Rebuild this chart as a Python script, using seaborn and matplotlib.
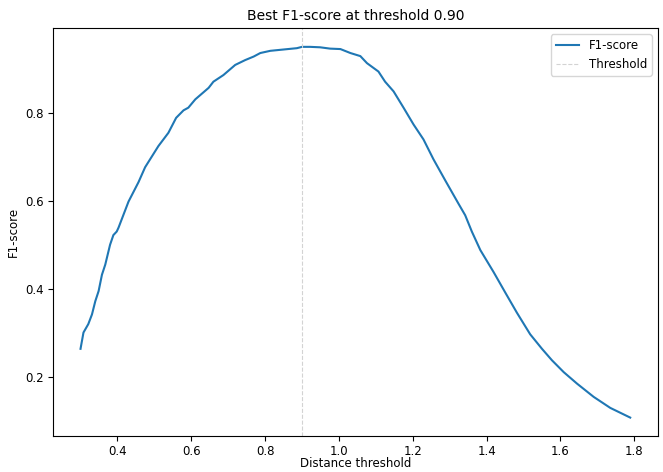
import numpy as np
import pandas as pd
import matplotlib
matplotlib.use("Agg")
import matplotlib.pyplot as plt
import seaborn as sns

# values
thresholds = [0.300, 0.308, 0.321, 0.331, 0.340, 0.349, 0.358, 0.367, 0.380, 0.389,
              0.398, 0.403, 0.430, 0.457, 0.475, 0.511, 0.538, 0.559, 0.579, 0.592,
              0.611, 0.647, 0.660, 0.687, 0.719, 0.746, 0.769, 0.787, 0.814, 0.850,
              0.886, 0.900, 0.922, 0.949, 0.976, 1.004, 1.031, 1.058, 1.076, 1.107,
              1.125, 1.148, 1.175, 1.202, 1.229, 1.256, 1.288, 1.324, 1.342, 1.360,
              1.383, 1.419, 1.451, 1.482, 1.518, 1.550, 1.577, 1.609, 1.645, 1.690,
              1.735, 1.789]
f1_scores = [0.264, 0.301, 0.320, 0.342, 0.372, 0.395, 0.432, 0.455, 0.500, 0.522,
             0.530, 0.539, 0.598, 0.642, 0.676, 0.724, 0.754, 0.788, 0.805, 0.811,
             0.830, 0.856, 0.870, 0.885, 0.908, 0.919, 0.927, 0.935, 0.940, 0.943,
             0.946, 0.949, 0.949, 0.948, 0.945, 0.944, 0.935, 0.928, 0.912, 0.893,
             0.870, 0.848, 0.811, 0.773, 0.739, 0.694, 0.646, 0.593, 0.567, 0.530,
             0.488, 0.438, 0.391, 0.346, 0.297, 0.264, 0.238, 0.211, 0.185, 0.155,
             0.130, 0.108]
best_threshold = 0.90

df = pd.DataFrame({"threshold": thresholds, "f1": f1_scores})

fig, ax = plt.subplots(figsize=(6.63, 4.72), dpi=100)
fig.subplots_adjust(left=0.080, right=0.992, bottom=0.076, top=0.940)

sns.lineplot(data=df, x="threshold", y="f1", ax=ax, color="#1f77b4",
             linewidth=1.5, label="F1-score")
ax.axvline(best_threshold, color="lightgray", linestyle="--", linewidth=0.8,
           label="Threshold")

ax.set_title(f"Best F1-score at threshold {best_threshold:.2f}", fontsize=10)
ax.set_xlabel("Distance threshold", fontsize=8.5, labelpad=-1)
ax.set_ylabel("F1-score", fontsize=8.5)
ax.tick_params(labelsize=8.5, pad=3)
ax.legend(loc="upper right", fontsize=8.5)

fig.savefig("out.png", dpi=100)
